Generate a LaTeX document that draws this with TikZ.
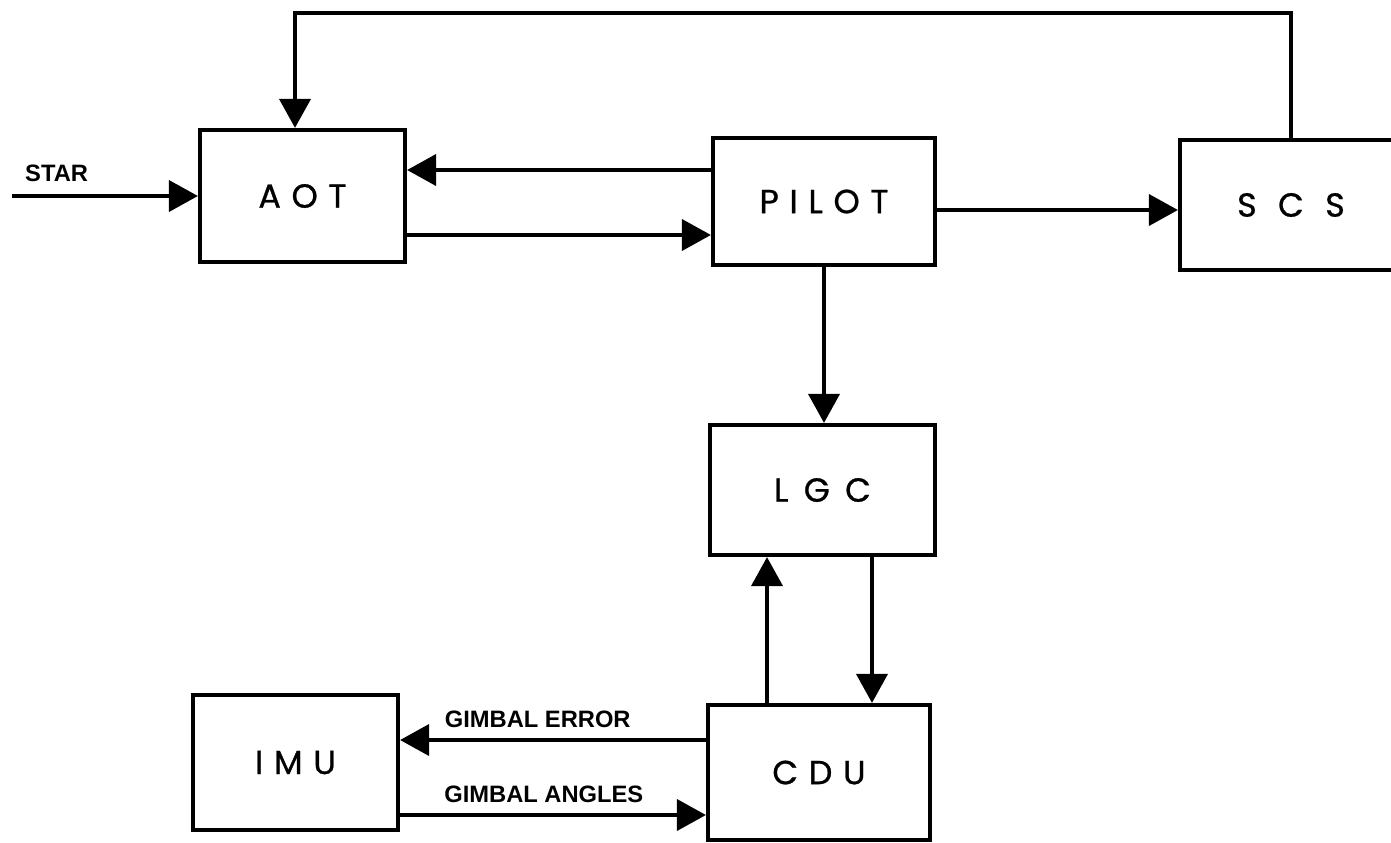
\documentclass[tikz,border=0pt]{standalone}
\usepackage{fontspec}
\setmainfont{Liberation Sans}
\newfontfamily\blockfont[LetterSpace=32, FakeBold=0.8]{Poppins}
\usetikzlibrary{arrows.meta}
\tikzset{
  block/.style={rectangle, draw=black, line width=2.4pt, minimum width=4.44cm, minimum height=2.6cm, text centered, font=\blockfont\fontsize{19}{22}\selectfont},
  arrow/.style={line width=2.2pt, -{Triangle[length=0.58cm,width=0.62cm]}},
  lbl/.style={font=\bfseries\fontsize{13.5}{16}\selectfont, inner sep=0pt}
}
\begin{document}
\begin{tikzpicture}[x=0.02cm, y=-0.02cm]
    \useasboundingbox (0,0) rectangle (1391,842);

    \node (aot) [block, minimum width=4.1cm, minimum height=2.64cm] at (302.5,196) {AOT};
    \node (pilot) [block, minimum height=2.54cm] at (824,201.5) {PILOT};
    \node (scs) [block, font=\blockfont\addfontfeature{LetterSpace=64}\fontsize{19}{22}\selectfont] at (1291,205) {SCS};
    \node (lgc) [block, minimum width=4.5cm, font=\blockfont\addfontfeature{LetterSpace=46}\fontsize{19}{22}\selectfont] at (822.5,490) {LGC};
    \node (imu) [block, minimum width=4.1cm, minimum height=2.7cm] at (295.5,762.5) {IMU};
    \node (cdu) [block, minimum height=2.7cm] at (819,772.5) {CDU};
    \coordinate (star) at (12,196);

    % Flechas
    \draw [arrow] (star) -- node [lbl, above=0.24cm, pos=0.24] {STAR} (aot);
    \draw [arrow] ([yshift=0.63cm]pilot.west) -- ([yshift=0.63cm]pilot.west -| aot.east);
    \draw [arrow] ([yshift=-0.78cm]aot.east) -- ([yshift=-0.78cm]aot.east -| pilot.west);
    \draw [arrow] ([yshift=-0.17cm]pilot.east) -- ([yshift=-0.17cm]pilot.east -| scs.west);
    \draw [arrow] (pilot.south) -- (pilot.south |- lgc.north);
    \draw [arrow] ([xshift=-1.04cm]cdu.north) -- ([xshift=-1.04cm]cdu.north |- lgc.south);
    \draw [arrow] ([xshift=0.99cm]lgc.south) -- ([xshift=0.99cm]lgc.south |- cdu.north);
    \draw [arrow] ([yshift=0.65cm]cdu.west) -- node [lbl, above=0.2cm, pos=0.55] {GIMBAL ERROR} ([yshift=0.65cm]cdu.west -| imu.east);
    \draw [arrow] ([yshift=-1.05cm]imu.east) -- node [lbl, above=0.2cm, pos=0.47] {GIMBAL ANGLES} ([yshift=-1.05cm]imu.east -| cdu.west);

    % Lazo de realimentacion
    \draw [arrow] (scs.north) -- ++(0,-125) -| ([xshift=-0.15cm]aot.north);

\end{tikzpicture}
\end{document}
